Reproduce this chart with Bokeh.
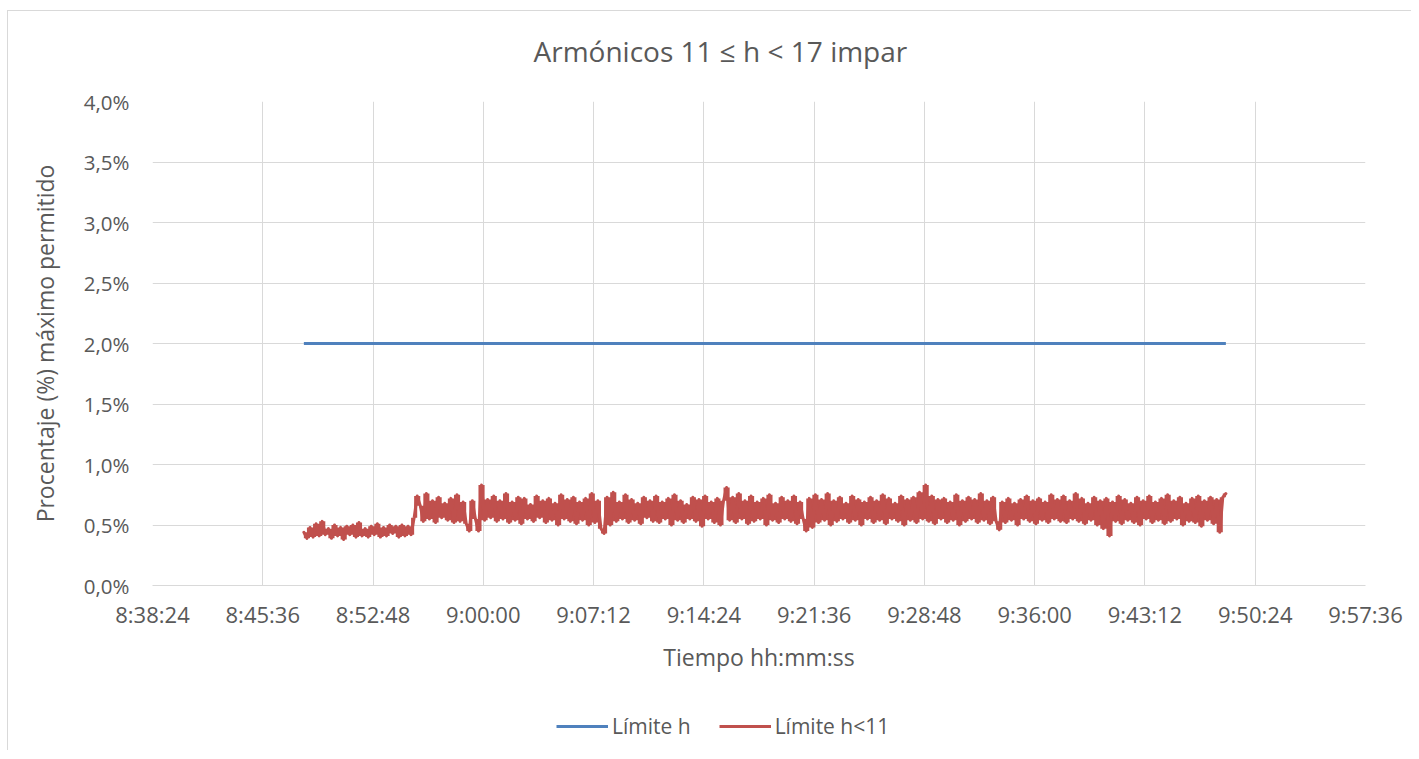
from bokeh.plotting import figure
from bokeh.layouts import column
from bokeh.models import FixedTicker, Legend, LegendItem, CustomJSTickFormatter, Range1d, Label
from bokeh.embed import file_html
from bokeh.resources import INLINE

# ---------------- data ----------------
title_text = "Armónicos 11 ≤ h < 17 impar"
x_title = "Tiempo hh:mm:ss"
y_title = "Procentaje (%) máximo permitido"

x_tick_labels = ["8:38:24", "8:45:36", "8:52:48", "9:00:00", "9:07:12", "9:14:24",
                 "9:21:36", "9:28:48", "9:36:00", "9:43:12", "9:50:24", "9:57:36"]
y_ticks = [0.0, 0.5, 1.0, 1.5, 2.0, 2.5, 3.0, 3.5, 4.0]

series_names = ["Límite h", "Límite h<11"]

limit_times = ["8:48:17", "9:48:29"]
limit_values = [2.0, 2.0]

sample_start = "8:48:17"
sample_step_s = 12
harmonic_values = [
    0.44, 0.39, 0.48, 0.40, 0.51, 0.41, 0.53, 0.42, 0.47, 0.39,
    0.50, 0.41, 0.48, 0.38, 0.49, 0.42, 0.50, 0.40, 0.52, 0.41,
    0.47, 0.40, 0.49, 0.42, 0.51, 0.40, 0.48, 0.41, 0.50, 0.43,
    0.49, 0.40, 0.50, 0.41, 0.49, 0.42, 0.56, 0.74,
    0.66, 0.53, 0.76, 0.55, 0.70, 0.52, 0.73, 0.56, 0.68, 0.54,
    0.72, 0.52, 0.75, 0.53, 0.69, 0.51, 0.45, 0.70, 0.55, 0.45,
    0.83, 0.54, 0.71, 0.56, 0.74, 0.53, 0.70, 0.55, 0.76, 0.52,
    0.69, 0.54, 0.73, 0.51, 0.72, 0.55, 0.67, 0.53, 0.74, 0.56,
    0.70, 0.52, 0.72, 0.54, 0.68, 0.50, 0.75, 0.55, 0.71, 0.53,
    0.73, 0.51, 0.69, 0.54, 0.72, 0.50, 0.76, 0.52, 0.70, 0.47,
    0.43, 0.73, 0.50, 0.77, 0.53, 0.69, 0.55, 0.75, 0.52, 0.71,
    0.54, 0.68, 0.51, 0.73, 0.56, 0.70, 0.53, 0.74, 0.52, 0.69,
    0.55, 0.72, 0.50, 0.75, 0.54, 0.70, 0.52, 0.67, 0.55, 0.73,
    0.53, 0.71, 0.49, 0.74, 0.55, 0.69, 0.52, 0.72, 0.50, 0.70,
    0.81, 0.54, 0.73, 0.52, 0.76, 0.55, 0.70, 0.51, 0.74, 0.53,
    0.69, 0.55, 0.72, 0.50, 0.75, 0.54, 0.68, 0.52, 0.73, 0.55,
    0.70, 0.53, 0.74, 0.51, 0.69, 0.55, 0.45, 0.72, 0.48, 0.75,
    0.52, 0.71, 0.54, 0.76, 0.50, 0.70, 0.53, 0.73, 0.55, 0.68,
    0.52, 0.74, 0.54, 0.71, 0.50, 0.69, 0.55, 0.73, 0.52, 0.70,
    0.54, 0.75, 0.51, 0.72, 0.55, 0.68, 0.53, 0.74, 0.50, 0.71,
    0.54, 0.73, 0.52, 0.77, 0.55, 0.83, 0.53, 0.74, 0.51, 0.71,
    0.55, 0.72, 0.52, 0.69, 0.54, 0.75, 0.50, 0.70, 0.53, 0.73,
    0.55, 0.71, 0.52, 0.76, 0.54, 0.70, 0.51, 0.73, 0.53, 0.46,
    0.69, 0.52, 0.72, 0.54, 0.68, 0.50, 0.71, 0.55, 0.74, 0.53,
    0.70, 0.51, 0.72, 0.54, 0.69, 0.52, 0.75, 0.55, 0.71, 0.53,
    0.74, 0.52, 0.70, 0.55, 0.76, 0.53, 0.72, 0.51, 0.68, 0.54,
    0.73, 0.50, 0.70, 0.47, 0.72, 0.41, 0.69, 0.53, 0.74, 0.51,
    0.71, 0.54, 0.68, 0.52, 0.73, 0.50, 0.70, 0.55, 0.74, 0.52,
    0.69, 0.54, 0.72, 0.51, 0.75, 0.53, 0.70, 0.55, 0.73, 0.50,
    0.68, 0.53, 0.72, 0.52, 0.74, 0.49, 0.70, 0.54, 0.73, 0.51,
    0.71, 0.44, 0.73, 0.76,
]

colors = ["#4F81BD", "#C0504D"]
text_color = "#595959"
grid_color = "#D9D9D9"
FONT = "Open Sans"


def to_s(t):
    h, m, s = (int(v) for v in t.split(":"))
    return h * 3600 + m * 60 + s


tick_secs = [to_s(t) for t in x_tick_labels]
limit_x = [to_s(t) for t in limit_times]
t0 = to_s(sample_start)
harm_x = [t0 + i * sample_step_s for i in range(len(harmonic_values))]
# dense trace: the area swept between consecutive readings
n = len(harmonic_values)
band_lo = [min(harmonic_values[max(i - 1, 0)], harmonic_values[i]) for i in range(n)]
band_hi = [max(harmonic_values[max(i - 1, 0)], harmonic_values[i]) for i in range(n)]


def strip(height):
    f = figure(
        width=1403, height=height, min_border=0, title=None,
        x_range=Range1d(0, 1), y_range=Range1d(0, 1),
        x_axis_type=None, y_axis_type=None,
        output_backend="svg", toolbar_location=None,
        background_fill_color="white", border_fill_color="white",
        outline_line_color=None,
    )
    f.xgrid.visible = False
    f.ygrid.visible = False
    return f


# ---------------- title strip ----------------
top = strip(75)
top.add_layout(Label(x=381, y=36, x_units="screen", y_units="screen",
                     text=title_text, text_font=FONT, text_font_size="28px",
                     text_color=text_color, text_align="left",
                     text_baseline="middle"))

# ---------------- main figure ----------------
p = figure(
    frame_width=1213, frame_height=484, title=None,
    min_border_left=144, min_border_top=15, min_border_right=46, min_border_bottom=95,
    x_range=Range1d(tick_secs[0], tick_secs[-1]),
    y_range=Range1d(y_ticks[0], y_ticks[-1]),
    output_backend="svg", toolbar_location=None,
    background_fill_color="white", border_fill_color="white",
    outline_line_color=None,
)

p.line(limit_x, limit_values, line_color=colors[0], line_width=3)
p.varea_step(x=harm_x, y1=band_lo, y2=band_hi, step_mode="before",
             fill_color=colors[1])
p.line(harm_x, harmonic_values, line_color=colors[1], line_width=3,
       line_join="round", line_cap="round")

# axes
p.xaxis.ticker = FixedTicker(ticks=tick_secs)
p.xaxis.major_label_overrides = {s: l for s, l in zip(tick_secs, x_tick_labels)}
p.yaxis.ticker = FixedTicker(ticks=y_ticks)
p.yaxis.formatter = CustomJSTickFormatter(code="return tick.toFixed(1).replace('.', ',') + '%';")

for ax in (p.xaxis[0], p.yaxis[0]):
    ax.major_tick_line_color = None
    ax.minor_tick_line_color = None
    ax.major_label_text_font = FONT
    ax.major_label_text_color = text_color
    ax.axis_label_text_font = FONT
    ax.axis_label_text_font_size = "23px"
    ax.axis_label_text_font_style = "normal"
    ax.axis_label_text_color = text_color
p.xaxis.major_label_text_font_size = "22px"
p.yaxis.major_label_text_font_size = "20.5px"

p.xaxis.axis_line_color = grid_color
p.xaxis.axis_line_width = 1
p.yaxis.axis_line_color = None
p.xaxis.axis_label = x_title
p.yaxis.axis_label = y_title
p.xaxis.major_label_standoff = 7
p.yaxis.major_label_standoff = 17
p.xaxis.axis_label_standoff = 9
p.yaxis.axis_label_standoff = 20

p.xgrid.grid_line_color = grid_color
p.ygrid.grid_line_color = grid_color
p.xgrid.grid_line_width = 1
p.ygrid.grid_line_width = 1

# ---------------- legend strip ----------------
# the series are drawn here too but fall outside this strip's ranges;
# they only feed the legend keys
leg = strip(70)
k1 = leg.line(limit_x, limit_values, line_color=colors[0], line_width=3)
k2 = leg.line(harm_x, harmonic_values, line_color=colors[1], line_width=3)
legend = Legend(
    items=[LegendItem(label=series_names[0], renderers=[k1]),
           LegendItem(label=series_names[1], renderers=[k2])],
    orientation="horizontal", location=(404, 10),
    label_text_font=FONT, label_text_font_size="21px", label_text_color=text_color,
    glyph_width=52, glyph_height=24, label_height=24, label_standoff=4, spacing=28,
    border_line_color=None, background_fill_alpha=0, padding=0, margin=0,
)
leg.add_layout(legend, "center")

layout = column(top, p, leg, spacing=0,
                styles={"border-top": "1px solid #D9D9D9", "border-left": "1px solid #D9D9D9",
                        "margin-left": "7px", "margin-top": "10px"})

open("out.html", "w").write(file_html(layout, INLINE))
